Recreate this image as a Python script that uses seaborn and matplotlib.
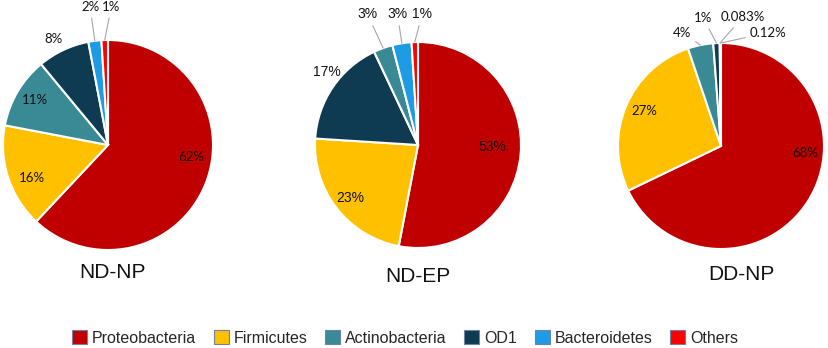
import numpy as np
import matplotlib
matplotlib.use('Agg')
import matplotlib.pyplot as plt
import seaborn as sns
from matplotlib.patches import Patch

sns.set_theme(style='white')

# data (values in legend order)
phyla = ['Proteobacteria', 'Firmicutes', 'Actinobacteria', 'OD1', 'Bacteroidetes', 'Others']
groups = ['ND-NP', 'ND-EP', 'DD-NP']
nd_np = [62, 16, 11, 8, 2, 1]
nd_ep = [53, 23, 3, 17, 3, 1]
dd_np = [68, 27, 4, 1, 0.083, 0.12]
nd_np_lbl = ['62%', '16%', '11%', '8%', '2%', '1%']
nd_ep_lbl = ['53%', '23%', '3%', '17%', '3%', '1%']
dd_np_lbl = ['68%', '27%', '4%', '1%', '0.083%', '0.12%']

colors = sns.color_palette(['#C00000', '#FFC000', '#3A8A96', '#0E3A52', '#1D9CE5', '#FF0000'])

# layout (pixels): pie centre, radius, slice order, label spots in radius units, leader lines
W, H = 829, 348
pies = [
    dict(vals=nd_np, lbl=nd_np_lbl, order=[0, 1, 2, 3, 4, 5], c=(108, 145), r=105,
         font='Lato', fs=9.5,
         pos=[(0.79, -0.11), (-0.72, -0.31), (-0.70, 0.43), (-0.52, 1.01), (-0.17, 1.31), (0.03, 1.31)],
         lead=[0, 0, 0, 0, 1, 1], title=(113, 272)),
    dict(vals=nd_ep, lbl=nd_ep_lbl, order=[0, 1, 3, 2, 4, 5], c=(418, 145), r=103,
         font='Liberation Sans', fs=10,
         pos=[(0.72, -0.02), (-0.66, -0.51), (-0.88, 0.71), (-0.49, 1.27), (-0.20, 1.27), (0.04, 1.27)],
         lead=[0, 0, 0, 1, 1, 1], title=(418, 276)),
    dict(vals=dd_np, lbl=dd_np_lbl, order=[0, 1, 2, 3, 4, 5], c=(721, 146), r=103,
         font='Lato', fs=9.5,
         pos=[(0.82, -0.07), (-0.74, 0.34), (-0.38, 1.10), (-0.17, 1.24), (0.21, 1.25), (0.46, 1.10)],
         lead=[0, 0, 1, 1, 1, 1], title=(741, 274)),
]

fig = plt.figure(figsize=(W / 100, H / 100), dpi=100)

for name, p in zip(groups, pies):
    cx, cy = p['c']
    r = p['r']
    vals = [p['vals'][i] for i in p['order']]
    lbls = [p['lbl'][i] for i in p['order']]
    cols = [colors[i] for i in p['order']]
    ax = fig.add_axes([(cx - r) / W, 1 - (cy + r) / H, 2 * r / W, 2 * r / H])
    ax.pie(vals, colors=cols, startangle=90, counterclock=False, radius=1,
           wedgeprops=dict(edgecolor='white', linewidth=1.5))
    ax.set_xlim(-1, 1)
    ax.set_ylim(-1, 1)
    ax.set_aspect('equal')
    ax.axis('off')

    tot = float(np.sum(vals))
    cum = np.cumsum(vals) / tot
    mids = cum - np.array(vals) / tot / 2
    for txt, (lx, ly), lead, m in zip(lbls, p['pos'], p['lead'], mids):
        ang = np.deg2rad(90 - m * 360)
        if lead:
            ax.annotate(txt, xy=(np.cos(ang), np.sin(ang)), xytext=(lx, ly),
                        ha='center', va='center', fontsize=p['fs'], family=p['font'],
                        color='#111111', annotation_clip=False, zorder=5,
                        arrowprops=dict(arrowstyle='-', color='#a6a6a6', lw=0.8,
                                        shrinkA=1, shrinkB=0))
        else:
            ax.text(lx, ly, txt, ha='center', va='center', fontsize=p['fs'],
                    family=p['font'], color='#111111', zorder=5)

    tx, ty = p['title']
    fig.text(tx / W, 1 - ty / H, name, ha='center', va='center', fontsize=15,
             family='Liberation Sans', color='#111111')

handles = [Patch(facecolor=c, edgecolor='#6a84a8', linewidth=0.8) for c in colors]
fig.legend(handles, phyla, loc='center', bbox_to_anchor=(405 / W, 1 - 338 / H), ncol=6,
           frameon=False, prop=dict(family='Liberation Sans', size=11.5),
           handlelength=0.95, handleheight=0.95, handletextpad=0.3, columnspacing=1.1,
           borderaxespad=0, borderpad=0)

fig.savefig('out.png', dpi=100)
